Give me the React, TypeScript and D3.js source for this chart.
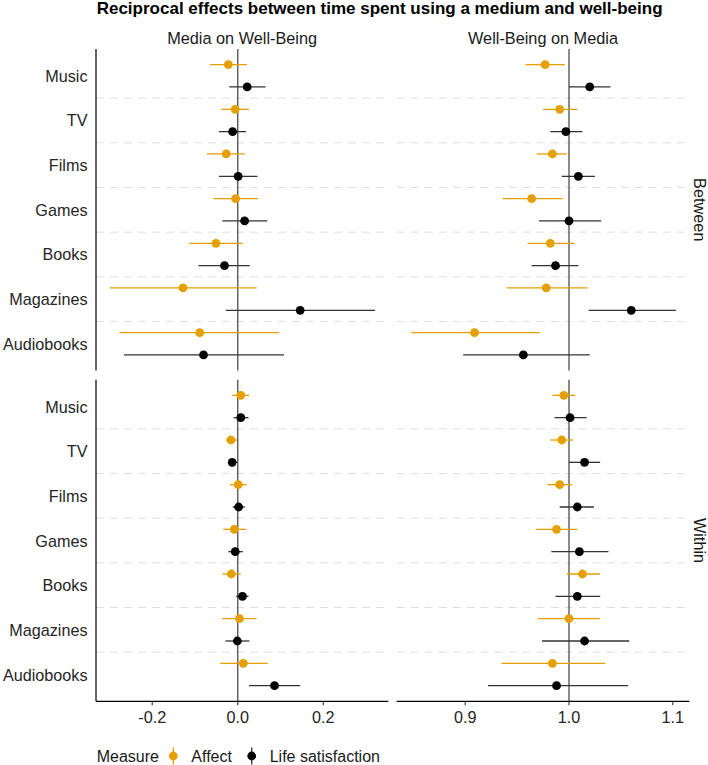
import React from "react";
import * as d3 from "d3";

// ---------- data ----------
const categories = ["Music", "TV", "Films", "Games", "Books", "Magazines", "Audiobooks"];
const directions = ["Media on Well-Being", "Well-Being on Media"];
const levels = ["Between", "Within"];
const measures = ["Affect", "Life satisfaction"];
const measureColors = ["#E69F00", "#000000"];
const lineColors = ["#E69F00", "#333333"];

// [estimate, lower, upper] per category
const mwbBetweenAffect = [
  [-0.022, -0.065, 0.021], [-0.006, -0.039, 0.026], [-0.027, -0.072, 0.017], [-0.005, -0.057, 0.047],
  [-0.051, -0.113, 0.011], [-0.128, -0.299, 0.044], [-0.089, -0.277, 0.096],
];
const mwbBetweenLife = [
  [0.022, -0.020, 0.065], [-0.012, -0.044, 0.019], [0.001, -0.044, 0.046], [0.016, -0.036, 0.069],
  [-0.031, -0.092, 0.028], [0.146, -0.028, 0.321], [-0.080, -0.266, 0.108],
];
const mwbWithinAffect = [
  [0.007, -0.013, 0.027], [-0.016, -0.028, -0.002], [0.001, -0.018, 0.021], [-0.008, -0.034, 0.019],
  [-0.015, -0.036, 0.007], [0.004, -0.037, 0.044], [0.013, -0.041, 0.070],
];
const mwbWithinLife = [
  [0.007, -0.010, 0.025], [-0.013, -0.023, -0.001], [0.002, -0.012, 0.017], [-0.006, -0.022, 0.012],
  [0.011, -0.004, 0.025], [-0.001, -0.029, 0.027], [0.086, 0.026, 0.146],
];
const wbmBetweenAffect = [
  [0.977, 0.958, 0.996], [0.991, 0.975, 1.008], [0.984, 0.969, 0.998], [0.964, 0.936, 0.994],
  [0.982, 0.960, 1.005], [0.978, 0.940, 1.018], [0.909, 0.848, 0.972],
];
const wbmBetweenLife = [
  [1.020, 1.000, 1.040], [0.997, 0.982, 1.013], [1.009, 0.993, 1.025], [1.000, 0.971, 1.031],
  [0.987, 0.964, 1.009], [1.060, 1.019, 1.103], [0.956, 0.898, 1.020],
];
const wbmWithinAffect = [
  [0.995, 0.984, 1.006], [0.993, 0.982, 1.004], [0.991, 0.979, 1.003], [0.988, 0.968, 1.008],
  [1.013, 0.998, 1.030], [1.000, 0.970, 1.030], [0.984, 0.935, 1.035],
];
const wbmWithinLife = [
  [1.001, 0.986, 1.017], [1.015, 1.000, 1.030], [1.008, 0.991, 1.024], [1.010, 0.983, 1.038],
  [1.008, 0.987, 1.030], [1.015, 0.974, 1.058], [0.988, 0.922, 1.057],
];

const xDomainLeft = [-0.3315, 0.352];
const xDomainRight = [0.834, 1.1159];
const xTicksLeft = [-0.2, 0.0, 0.2];
const xTicksRight = [0.9, 1.0, 1.1];
const refValues = [0, 1];

// panel data: [row][col][measure]
const panelData = [
  [[mwbBetweenAffect, mwbBetweenLife], [wbmBetweenAffect, wbmBetweenLife]],
  [[mwbWithinAffect, mwbWithinLife], [wbmWithinAffect, wbmWithinLife]],
];

// ---------- layout ----------
const W = 708;
const H = 765;
const FONT = "'Liberation Sans', Arial, sans-serif";
const colX = [[96, 388.3], [396.7, 689.3]];
const rowY = [[49, 370.6], [379.7, 701.3]];
const fmt = d3.formatLocale({ decimal: ".", thousands: ",", grouping: [3], currency: ["", ""], minus: "-" }).format(".1f");

export default function App() {
  const xScales = [
    d3.scaleLinear().domain(xDomainLeft).range(colX[0]),
    d3.scaleLinear().domain(xDomainRight).range(colX[1]),
  ];
  const xTicks = [xTicksLeft, xTicksRight];
  const yScales = rowY.map((r) => d3.scalePoint<string>().domain(categories).range(r).padding(0.6));
  const step = yScales[0].step();
  const dodge = step * 0.25;

  return (
    <svg width={W} height={H} style={{ position: "absolute", left: 0, top: 0, background: "#fff" }} fontFamily={FONT}>
      <rect x={0} y={0} width={W} height={H} fill="#ffffff" />
      <text x={96.7} y={14} fontSize={17} fontWeight="bold" fill="#000">
        Reciprocal effects between time spent using a medium and well-being
      </text>
      {directions.map((d, c) => (
        <text key={d} x={(colX[c][0] + colX[c][1]) / 2} y={44} fontSize={16.3} textAnchor="middle" fill="#1a1a1a">
          {d}
        </text>
      ))}
      {levels.map((l, r) => (
        <text
          key={l}
          transform={`translate(${700},${(rowY[r][0] + rowY[r][1]) / 2}) rotate(90)`}
          fontSize={16.3}
          textAnchor="middle"
          dominantBaseline="central"
          fill="#1a1a1a"
        >
          {l}
        </text>
      ))}
      {rowY.map((ry, r) => {
        const y = yScales[r];
        return (
          <g key={r}>
            {colX.map((cx, c) => {
              const x = xScales[c];
              return (
                <g key={c}>
                  {categories.slice(0, -1).map((cat) => (
                    <line
                      key={cat}
                      x1={cx[0]}
                      x2={cx[1]}
                      y1={(y(cat) as number) + step / 2}
                      y2={(y(cat) as number) + step / 2}
                      stroke="#dedede"
                      strokeWidth={1}
                      strokeDasharray="8,6"
                    />
                  ))}
                  <line x1={x(refValues[c])} x2={x(refValues[c])} y1={ry[0]} y2={ry[1]} stroke="#4d4d4d" strokeWidth={1.3} />
                  {measures.map((m, mi) =>
                    panelData[r][c][mi].map((v, i) => {
                      const yy = (y(categories[i]) as number) + (mi === 0 ? -dodge : dodge);
                      return (
                        <g key={m + i}>
                          <line x1={x(v[1])} x2={x(v[2])} y1={yy} y2={yy} stroke={lineColors[mi]} strokeWidth={1.3} />
                          <circle cx={x(v[0])} cy={yy} r={4.4} fill={measureColors[mi]} />
                        </g>
                      );
                    })
                  )}
                </g>
              );
            })}
            <line x1={colX[0][0]} x2={colX[0][0]} y1={ry[0]} y2={ry[1]} stroke="#000" strokeWidth={1.2} />
            {categories.map((cat) => (
              <text
                key={cat}
                x={87.5}
                y={y(cat) as number}
                fontSize={16.2}
                textAnchor="end"
                dominantBaseline="central"
                fill="#262626"
              >
                {cat}
              </text>
            ))}
          </g>
        );
      })}
      {colX.map((cx, c) => (
        <g key={c}>
          <line x1={cx[0]} x2={cx[1]} y1={rowY[1][1]} y2={rowY[1][1]} stroke="#000" strokeWidth={1.2} />
          {xTicks[c].map((t) => (
            <g key={t} transform={`translate(${xScales[c](t)},${rowY[1][1]})`}>
              <line y1={0} y2={4} stroke="#333" strokeWidth={1.1} />
              <text y={22} fontSize={16.2} textAnchor="middle" fill="#262626">
                {fmt(t)}
              </text>
            </g>
          ))}
        </g>
      ))}
      <g transform="translate(0,756)">
        <text x={96.7} y={0} fontSize={16} dominantBaseline="central" fill="#1a1a1a">
          Measure
        </text>
        {measures.map((m, mi) => {
          const kx = [173.3, 251.7][mi];
          return (
            <g key={m}>
              <line x1={kx} x2={kx} y1={-8.5} y2={8.5} stroke={lineColors[mi]} strokeWidth={1.3} />
              <circle cx={kx} cy={0} r={4.4} fill={measureColors[mi]} />
              <text x={kx + 18} y={0} fontSize={16} dominantBaseline="central" fill="#1a1a1a">
                {m}
              </text>
            </g>
          );
        })}
      </g>
    </svg>
  );
}
